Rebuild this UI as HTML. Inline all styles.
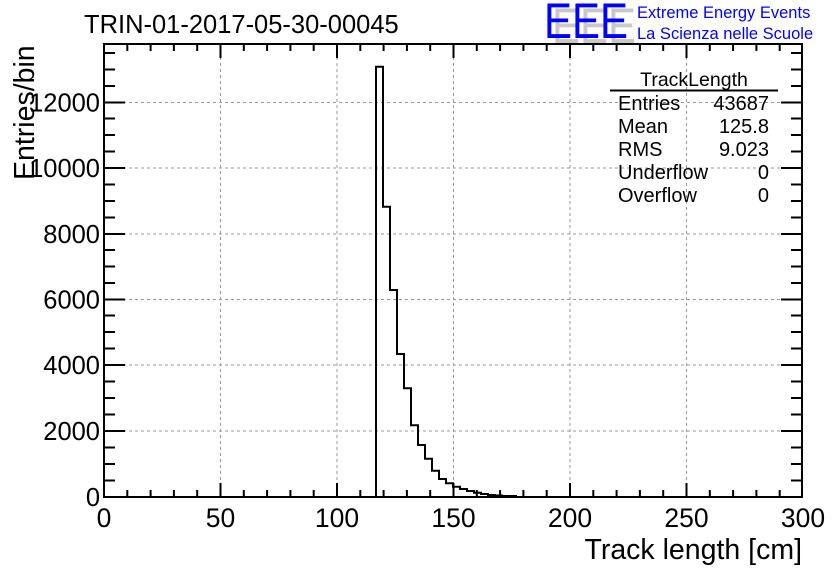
<!DOCTYPE html>
<html><head><meta charset="utf-8"><style>
body{margin:0;background:#fff}
svg{display:block;font-family:"Liberation Sans",Arial,sans-serif}
</style></head><body>
<svg width="836" height="572" viewBox="0 0 836 572">
<rect width="836" height="572" fill="#fff"/>
<g stroke="#999" stroke-width="1" stroke-dasharray="3,3">
<line x1="220.5" y1="45" x2="220.5" y2="496"/>
<line x1="337" y1="45" x2="337" y2="496"/>
<line x1="453.5" y1="45" x2="453.5" y2="496"/>
<line x1="570" y1="45" x2="570" y2="496"/>
<line x1="686.5" y1="45" x2="686.5" y2="496"/>
<line x1="105" y1="431" x2="802" y2="431"/>
<line x1="105" y1="365" x2="802" y2="365"/>
<line x1="105" y1="299.5" x2="802" y2="299.5"/>
<line x1="105" y1="234" x2="802" y2="234"/>
<line x1="105" y1="168" x2="802" y2="168"/>
<line x1="105" y1="102.5" x2="802" y2="102.5"/>
</g>
<path fill="none" stroke="#000" stroke-width="2" d="M376,497 V66.7 H383 V206.7 H390 V290 H397 V354 H404 V388.3 H411 V425.3 H418 V445 H425 V458.7 H432 V470.7 H439 V479 H446 V483.3 H453 V486.7 H460 V489 H467 V491 H474 V492.7 H481 V494 H488 V495 H495 V495.5 H502 V496 H516 V497"/>
<rect x="104" y="44" width="698" height="453" fill="none" stroke="#000" stroke-width="2"/>
<g font-size="26.5" fill="#000" text-anchor="middle">
<text x="104" y="527">0</text><text x="220.5" y="527">50</text><text x="337" y="527">100</text><text x="453.5" y="527">150</text><text x="570" y="527">200</text><text x="686.5" y="527">250</text><text x="803" y="527">300</text>
</g>
<g font-size="25.5" fill="#000" text-anchor="end">
<text x="100" y="506">0</text><text x="100" y="440">2000</text><text x="100" y="374">4000</text><text x="100" y="308.5">6000</text><text x="100" y="243">8000</text><text x="100" y="177">10000</text><text x="100" y="111.5">12000</text>
</g>
<text x="802" y="559" font-size="28.5" text-anchor="end">Track length [cm]</text>
<text transform="translate(34,180) rotate(-90)" font-size="28.5">Entries/bin</text>
<text x="84" y="33" font-size="25.5">TRIN-01-2017-05-30-00045</text>
<g font-size="50">
<text x="552" y="43" fill="#c8c8c8" textLength="84" lengthAdjust="spacingAndGlyphs">EEE</text>
<text x="544" y="38" fill="#0000ff" textLength="84" lengthAdjust="spacingAndGlyphs">EEE</text>
</g>
<text x="637" y="18" font-size="16.5" fill="#0000ff">Extreme Energy Events</text>
<text x="637" y="39" font-size="16.5" fill="#0000ff">La Scienza nelle Scuole</text>
<text x="694" y="86" font-size="19.5" text-anchor="middle">TrackLength</text>
<line x1="610" y1="90.5" x2="778" y2="90.5" stroke="#000" stroke-width="2"/>
<g font-size="20">
<text x="618" y="110">Entries</text><text x="618" y="133">Mean</text><text x="618" y="156">RMS</text><text x="618" y="179">Underflow</text><text x="618" y="202">Overflow</text>
</g>
<g font-size="20" text-anchor="end">
<text x="769" y="110">43687</text><text x="769" y="133">125.8</text><text x="769" y="156">9.023</text><text x="769" y="179">0</text><text x="769" y="202">0</text>
</g>
<path stroke="#000" stroke-width="2" fill="none" d="
M104,497v-14M127.3,497v-7M150.6,497v-7M173.9,497v-7M197.2,497v-7M220.5,497v-14M243.8,497v-7M267.1,497v-7M290.4,497v-7M313.7,497v-7M337,497v-14M360.3,497v-7M383.6,497v-7M406.9,497v-7M430.2,497v-7M453.5,497v-14M476.8,497v-7M500.1,497v-7M523.4,497v-7M546.7,497v-7M570,497v-14M593.3,497v-7M616.6,497v-7M639.9,497v-7M663.2,497v-7M686.5,497v-14M709.8,497v-7M733.1,497v-7M756.4,497v-7M779.7,497v-7
M104,44v14M127.3,44v7M150.6,44v7M173.9,44v7M197.2,44v7M220.5,44v14M243.8,44v7M267.1,44v7M290.4,44v7M313.7,44v7M337,44v14M360.3,44v7M383.6,44v7M406.9,44v7M430.2,44v7M453.5,44v14M476.8,44v7M500.1,44v7M523.4,44v7M546.7,44v7M570,44v14M593.3,44v7M616.6,44v7M639.9,44v7M663.2,44v7M686.5,44v14M709.8,44v7M733.1,44v7M756.4,44v7M779.7,44v7
M104,497h21M104,480.5h11M104,464h11M104,447.5h11M104,431h21M104,414.5h11M104,398h11M104,381.5h11M104,365h21M104,348.5h11M104,332h11M104,315.5h11M104,299.5h21M104,283h11M104,266.5h11M104,250h11M104,234h21M104,217.5h11M104,201h11M104,184.5h11M104,168h21M104,151.5h11M104,135h11M104,118.5h11M104,102.5h21M104,86h11M104,69.5h11M104,53h11
M802,497h-21M802,480.5h-11M802,464h-11M802,447.5h-11M802,431h-21M802,414.5h-11M802,398h-11M802,381.5h-11M802,365h-21M802,348.5h-11M802,332h-11M802,315.5h-11M802,299.5h-21M802,283h-11M802,266.5h-11M802,250h-11M802,234h-21M802,217.5h-11M802,201h-11M802,184.5h-11M802,168h-21M802,151.5h-11M802,135h-11M802,118.5h-11M802,102.5h-21M802,86h-11M802,69.5h-11M802,53h-11"/>
</svg>
</body></html>
